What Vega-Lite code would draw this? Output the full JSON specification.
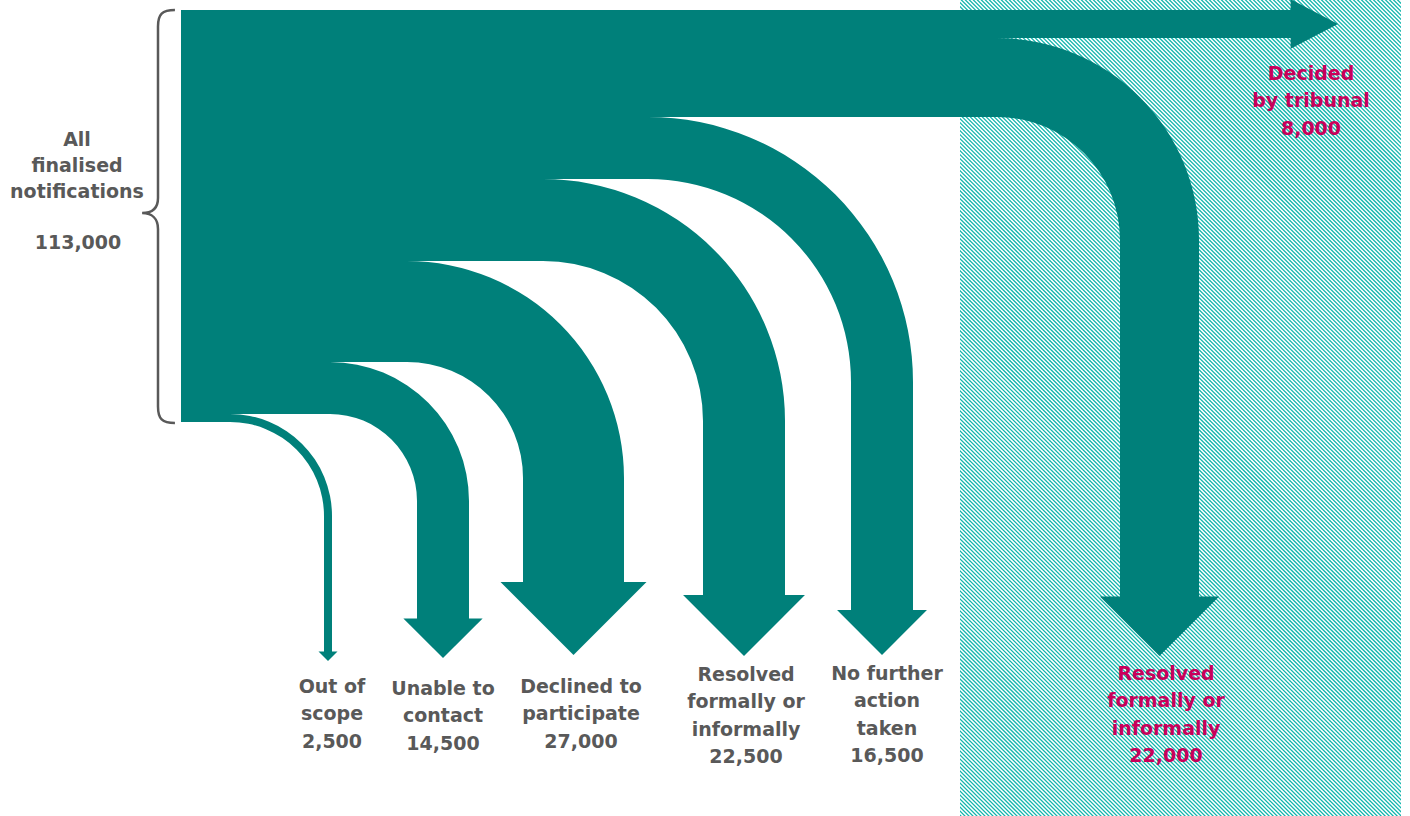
{
  "$schema": "https://vega.github.io/schema/vega-lite/v6.json",
  "width": 1410,
  "height": 816,
  "padding": 0,
  "autosize": {"type": "none"},
  "background": "white",
  "config": {"view": {"stroke": null}},
  "datasets": {
    "flows": [
      {"name": "Decided by tribunal", "value": 8, "group": "tribunal", "dir": "right", "top": 10, "bottom": 38, "xa": 1292, "tipX": 1338, "tipY": 24},
      {"name": "Resolved formally or informally (tribunal)", "value": 22, "group": "tribunal", "dir": "down", "top": 38, "bottom": 117, "xa": 997, "yc": 240, "rin": 123, "rout": 202, "stemL": 1120, "stemR": 1199, "stemEnd": 598, "tipX": 1159.5, "tipY": 656},
      {"name": "No further action taken", "value": 16.5, "group": "main", "dir": "down", "top": 117, "bottom": 179, "xa": 648, "yc": 382, "rin": 203, "rout": 265, "stemL": 851, "stemR": 913, "stemEnd": 612, "tipX": 882, "tipY": 655},
      {"name": "Resolved formally or informally", "value": 22.5, "group": "main", "dir": "down", "top": 179, "bottom": 261, "xa": 543, "yc": 421, "rin": 160, "rout": 242, "stemL": 703, "stemR": 785, "stemEnd": 596, "tipX": 744, "tipY": 656},
      {"name": "Declined to participate", "value": 27, "group": "main", "dir": "down", "top": 261, "bottom": 362, "xa": 407, "yc": 478, "rin": 116, "rout": 217, "stemL": 523, "stemR": 624, "stemEnd": 584, "tipX": 573.5, "tipY": 655},
      {"name": "Unable to contact", "value": 14.5, "group": "main", "dir": "down", "top": 362, "bottom": 414, "xa": 330, "yc": 501, "rin": 87, "rout": 139, "stemL": 417, "stemR": 469, "stemEnd": 619, "tipX": 443, "tipY": 658},
      {"name": "Out of scope", "value": 2.5, "group": "main", "dir": "down", "top": 414, "bottom": 422, "xa": 230, "yc": 516, "rin": 94, "rout": 102, "stemL": 324, "stemR": 332, "stemEnd": 652, "tipX": 328, "tipY": 661}
    ],
    "hatch": [{"x": 850, "y": 738, "x2": 1510, "y2": 78}],
    "masks": [{"x": 0, "x2": 960, "y": 0, "y2": 816}, {"x": 1401, "x2": 1420, "y": 0, "y2": 816}],
    "labels": [
      {"label": "Out of|scope|2,500", "group": "main", "x": 332, "y": 693},
      {"label": "Unable to|contact|14,500", "group": "main", "x": 443, "y": 695},
      {"label": "Declined to|participate|27,000", "group": "main", "x": 581, "y": 693},
      {"label": "Resolved|formally or|informally|22,500", "group": "main", "x": 746, "y": 681},
      {"label": "No further|action|taken|16,500", "group": "main", "x": 887, "y": 680},
      {"label": "Resolved|formally or|informally|22,000", "group": "tribunal", "x": 1166, "y": 680},
      {"label": "Decided|by tribunal|8,000", "group": "tribunal", "x": 1311, "y": 80}
    ],
    "left": [
      {"label": "All|finalised|notifications", "x": 77, "y": 146},
      {"label": "113,000", "x": 78, "y": 249}
    ],
    "brace": [{"x": 158, "y": 216.5}]
  },
  "layer": [
    {
      "data": {"name": "hatch"},
      "mark": {"type": "rule", "strokeWidth": 900, "strokeDash": [1.3, 1.53], "color": "#14b5ad", "strokeCap": "butt"},
      "encoding": {
        "x": {"field": "x", "type": "quantitative", "scale": {"type": "linear", "domain": [0, 1410], "nice": false, "zero": false}, "axis": null},
        "y": {"field": "y", "type": "quantitative", "scale": {"type": "linear", "domain": [0, 816], "nice": false, "zero": false, "reverse": true}, "axis": null},
        "x2": {"field": "x2"},
        "y2": {"field": "y2"}
      }
    },
    {
      "data": {"name": "masks"},
      "mark": {"type": "rect", "color": "white"},
      "encoding": {
        "x": {"field": "x", "type": "quantitative", "scale": {"type": "linear", "domain": [0, 1410], "nice": false, "zero": false}, "axis": null},
        "x2": {"field": "x2"},
        "y": {"field": "y", "type": "quantitative", "scale": {"type": "linear", "domain": [0, 816], "nice": false, "zero": false, "reverse": true}, "axis": null},
        "y2": {"field": "y2"}
      }
    },
    {
      "data": {"name": "flows"},
      "mark": {"type": "rect", "color": "#00807a"},
      "encoding": {
        "x": {"field": "xa", "type": "quantitative", "scale": {"type": "linear", "domain": [0, 1410], "nice": false, "zero": false}, "axis": null},
        "x2": {"datum": 181},
        "y": {"field": "top", "type": "quantitative", "scale": {"type": "linear", "domain": [0, 816], "nice": false, "zero": false, "reverse": true}, "axis": null},
        "y2": {"field": "bottom"}
      }
    },
    {
      "data": {"name": "flows"},
      "transform": [{"filter": "datum.rout > 0"}],
      "mark": {"type": "arc", "color": "#00807a", "theta": 0, "theta2": 1.5707963},
      "encoding": {
        "x": {"field": "xa", "type": "quantitative", "scale": {"type": "linear", "domain": [0, 1410], "nice": false, "zero": false}, "axis": null},
        "y": {"field": "yc", "type": "quantitative", "scale": {"type": "linear", "domain": [0, 816], "nice": false, "zero": false, "reverse": true}, "axis": null},
        "radius": {"field": "rout", "type": "quantitative", "scale": {"type": "linear", "domain": [0, 1000], "range": [0, 1000]}},
        "radius2": {"field": "rin"}
      }
    },
    {
      "data": {"name": "flows"},
      "transform": [{"filter": "datum.rout > 0"}],
      "mark": {"type": "rect", "color": "#00807a"},
      "encoding": {
        "x": {"field": "stemL", "type": "quantitative", "scale": {"type": "linear", "domain": [0, 1410], "nice": false, "zero": false}, "axis": null},
        "x2": {"field": "stemR"},
        "y": {"field": "yc", "type": "quantitative", "scale": {"type": "linear", "domain": [0, 816], "nice": false, "zero": false, "reverse": true}, "axis": null},
        "y2": {"field": "stemEnd"}
      }
    },
    {
      "data": {"name": "flows"},
      "mark": {"type": "point", "filled": true, "opacity": 1, "color": "#00807a", "strokeWidth": 0},
      "encoding": {
        "x": {"field": "tipX", "type": "quantitative", "scale": {"type": "linear", "domain": [0, 1410], "nice": false, "zero": false}, "axis": null},
        "y": {"field": "tipY", "type": "quantitative", "scale": {"type": "linear", "domain": [0, 816], "nice": false, "zero": false, "reverse": true}, "axis": null},
        "shape": {"field": "dir", "type": "nominal", "scale": {"domain": ["down", "right"], "range": ["M-1,-1L1,-1L0,0Z", "M-2.1,-1.1L0,0L-2.1,1.1Z"]}, "legend": null},
        "size": {"field": "value", "type": "quantitative", "scale": {"type": "pow", "exponent": 2, "domain": [-1, 27], "range": [151, 21316]}, "legend": null}
      }
    },
    {
      "data": {"name": "brace"},
      "mark": {"type": "point", "shape": "M0.082,-1C0.02,-1 0,-0.98 0,-0.92L0,-0.09C0,-0.04 -0.03,-0.017 -0.077,-0.017C-0.03,-0.017 0,0.01 0,0.06L0,0.92C0,0.98 0.02,1 0.082,1", "size": 170569, "filled": false, "stroke": "#595959", "strokeWidth": 2.5, "opacity": 1},
      "encoding": {
        "x": {"field": "x", "type": "quantitative", "scale": {"type": "linear", "domain": [0, 1410], "nice": false, "zero": false}, "axis": null},
        "y": {"field": "y", "type": "quantitative", "scale": {"type": "linear", "domain": [0, 816], "nice": false, "zero": false, "reverse": true}, "axis": null}
      }
    },
    {
      "data": {"name": "left"},
      "mark": {"type": "text", "font": "DejaVu Sans", "fontWeight": "bold", "fontSize": 19, "lineBreak": "|", "lineHeight": 26, "align": "center", "baseline": "alphabetic", "color": "#595959"},
      "encoding": {
        "x": {"field": "x", "type": "quantitative", "scale": {"type": "linear", "domain": [0, 1410], "nice": false, "zero": false}, "axis": null},
        "y": {"field": "y", "type": "quantitative", "scale": {"type": "linear", "domain": [0, 816], "nice": false, "zero": false, "reverse": true}, "axis": null},
        "text": {"field": "label"}
      }
    },
    {
      "data": {"name": "labels"},
      "mark": {"type": "text", "font": "DejaVu Sans", "fontWeight": "bold", "fontSize": 19, "lineBreak": "|", "lineHeight": 27.3, "align": "center", "baseline": "alphabetic"},
      "encoding": {
        "x": {"field": "x", "type": "quantitative", "scale": {"type": "linear", "domain": [0, 1410], "nice": false, "zero": false}, "axis": null},
        "y": {"field": "y", "type": "quantitative", "scale": {"type": "linear", "domain": [0, 816], "nice": false, "zero": false, "reverse": true}, "axis": null},
        "text": {"field": "label"},
        "color": {"field": "group", "type": "nominal", "scale": {"domain": ["main", "tribunal"], "range": ["#595959", "#c8005a"]}, "legend": null}
      }
    }
  ]
}
